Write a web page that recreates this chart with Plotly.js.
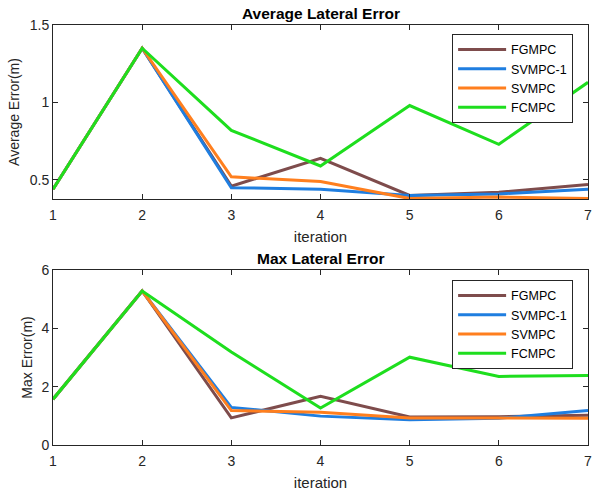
<!DOCTYPE html>
<html>
<head>
<meta charset="utf-8">
<script src="https://cdn.plot.ly/plotly-3.0.1.min.js"></script>
<style>html,body{margin:0;padding:0;background:#fff;}#chart{width:593px;height:493px;}</style>
</head>
<body>
<div id="chart"></div>
<script>
const iterations = [1, 2, 3, 4, 5, 6, 7];
const seriesNames = ["FGMPC", "SVMPC-1", "SVMPC", "FCMPC"];
const seriesColors = ["#7E4C4C", "#1F7EE0", "#FF7F1E", "#1EDE1E"];

// Average lateral error (m)
const avgFGMPC  = [0.44, 1.35, 0.46, 0.64, 0.40, 0.42, 0.47];
const avgSVMPC1 = [0.44, 1.35, 0.45, 0.44, 0.40, 0.41, 0.44];
const avgSVMPC  = [0.44, 1.35, 0.52, 0.49, 0.38, 0.39, 0.38];
const avgFCMPC  = [0.44, 1.35, 0.82, 0.59, 0.98, 0.73, 1.13];

// Max lateral error (m)
const maxFGMPC  = [1.57, 5.28, 0.93, 1.67, 0.96, 0.97, 1.02];
const maxSVMPC1 = [1.57, 5.28, 1.29, 0.99, 0.87, 0.92, 1.18];
const maxSVMPC  = [1.57, 5.28, 1.18, 1.12, 0.93, 0.93, 0.92];
const maxFCMPC  = [1.57, 5.28, 3.19, 1.27, 3.01, 2.35, 2.38];

const avgData = [avgFGMPC, avgSVMPC1, avgSVMPC, avgFCMPC];
const maxData = [maxFGMPC, maxSVMPC1, maxSVMPC, maxFCMPC];

const traces = [];
avgData.forEach((ys, i) => traces.push({
  x: iterations, y: ys, type: "scatter", mode: "lines", name: seriesNames[i],
  line: {color: seriesColors[i], width: 3}, xaxis: "x", yaxis: "y", legend: "legend"
}));
maxData.forEach((ys, i) => traces.push({
  x: iterations, y: ys, type: "scatter", mode: "lines", name: seriesNames[i],
  line: {color: seriesColors[i], width: 3}, xaxis: "x2", yaxis: "y2", legend: "legend2"
}));

const fam = "Liberation Sans, Arial, sans-serif";
const font = {family: fam, size: 13, color: "#262626"};
const axisCommon = {
  showgrid: false, zeroline: false, showline: true, linecolor: "#262626", linewidth: 1,
  mirror: "ticks", ticks: "inside", ticklen: 5, tickcolor: "#262626",
  tickfont: {family: fam, size: 14, color: "#262626"}
};
const legendCommon = {
  x: 0.746, xanchor: "left", yanchor: "top", bgcolor: "#fff",
  bordercolor: "#262626", borderwidth: 1, itemwidth: 48,
  font: {family: fam, size: 12.5, color: "#000"}, tracegroupgap: 0
};

const layout = {
  width: 593, height: 493,
  margin: {l: 53, r: 5, t: 25, b: 48},
  paper_bgcolor: "#fff", plot_bgcolor: "#fff",
  font: font,
  showlegend: true,
  xaxis: Object.assign({}, axisCommon, {
    domain: [0, 1], anchor: "y", range: [1, 7], dtick: 1, ticklabelstandoff: 3,
    title: {text: "iteration", font: {family: fam, size: 15, color: "#262626"}, standoff: 9}
  }),
  yaxis: Object.assign({}, axisCommon, {
    domain: [0.5857, 1], anchor: "x", range: [0.377, 1.5],
    tickvals: [0.5, 1, 1.5], ticktext: ["0.5", "1", "1.5"],
    title: {text: "Average Error(m)", font: {family: fam, size: 14, color: "#262626"}, standoff: 6}
  }),
  xaxis2: Object.assign({}, axisCommon, {
    domain: [0, 1], anchor: "y2", range: [1, 7], dtick: 1, ticklabelstandoff: 3,
    title: {text: "iteration", font: {family: fam, size: 15, color: "#262626"}, standoff: 9}
  }),
  yaxis2: Object.assign({}, axisCommon, {
    domain: [0, 0.4167], anchor: "x2", range: [0, 6], dtick: 2,
    title: {text: "Max Error(m)", font: {family: fam, size: 14, color: "#262626"}, standoff: 5}
  }),
  legend: Object.assign({}, legendCommon, {y: 0.979}),
  legend2: Object.assign({}, legendCommon, {y: 0.393}),
  annotations: [
    {text: "<b>Average Lateral Error</b>", xref: "paper", yref: "paper", x: 0.5, y: 1.0,
     yanchor: "bottom", xanchor: "center", showarrow: false, yshift: 1,
     font: {family: fam, size: 15.5, color: "#000"}},
    {text: "<b>Max Lateral Error</b>", xref: "paper", yref: "paper", x: 0.5, y: 0.4167,
     yanchor: "bottom", xanchor: "center", showarrow: false, yshift: 1,
     font: {family: fam, size: 15.5, color: "#000"}}
  ]
};

Plotly.newPlot("chart", traces, layout, {displayModeBar: false, staticPlot: true});
</script>
</body>
</html>
